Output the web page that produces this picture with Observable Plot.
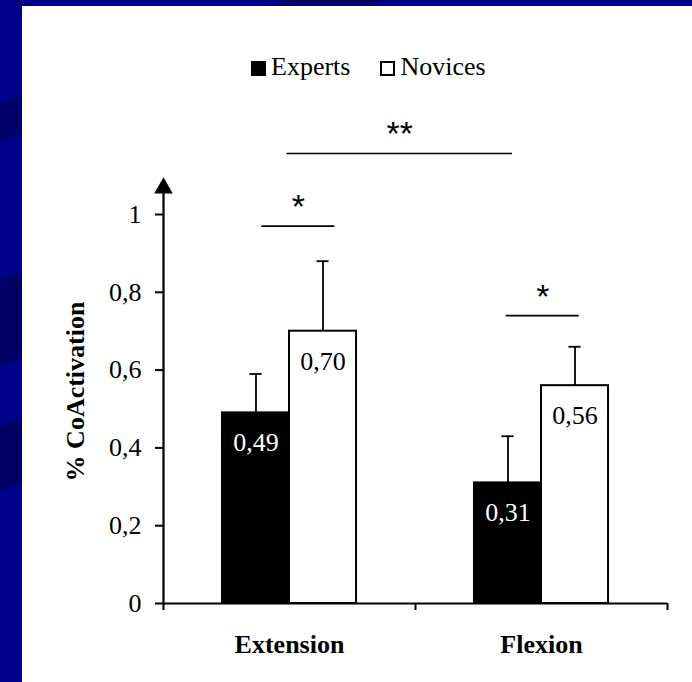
<!DOCTYPE html>
<html>
<head>
<meta charset="utf-8">
<script src="https://cdn.jsdelivr.net/npm/d3@7"></script>
<script src="https://cdn.jsdelivr.net/npm/@observablehq/plot@0.6"></script>
<style>
  html, body { margin: 0; padding: 0; width: 692px; height: 682px; overflow: hidden; }
  body { background:
    linear-gradient(160deg, rgba(0,0,0,0) 0px, rgba(0,0,0,0) 95px, rgba(0,0,40,0.35) 100px, rgba(0,0,40,0.35) 130px, rgba(0,0,0,0) 135px,
                    rgba(0,0,0,0) 260px, rgba(0,0,40,0.4) 268px, rgba(0,0,40,0.4) 340px, rgba(0,0,0,0) 346px,
                    rgba(0,0,0,0) 398px, rgba(0,0,40,0.4) 404px, rgba(0,0,40,0.4) 458px, rgba(0,0,0,0) 464px),
    #00008a; }
  #panel { position: absolute; left: 22px; top: 6px; width: 670px; height: 676px; background: #fff; }
  #legend { position: absolute; left: 229px; top: 46px; display: flex; align-items: center;
            font-family: "Liberation Serif", "Times New Roman", serif; font-size: 26px; color: #000; line-height: 30px; }
  .sw { width: 15px; height: 15px; box-sizing: border-box; margin-right: 5px; margin-top: 2px; }
  .item { display: flex; align-items: center; margin-right: 30px; }
  #chart { position: absolute; left: 0; top: 84px; }
</style>
</head>
<body>
<div id="panel">
  <div id="legend"></div>
  <div id="chart"></div>
</div>
<script>
// ---- data ----
const categories = ["Extension", "Flexion"];
const groups = ["Experts", "Novices"];
const expertsValues = [0.49, 0.31];
const novicesValues = [0.70, 0.56];
const expertsErr = [0.10, 0.12];
const novicesErr = [0.18, 0.10];
const yTicks = [0, 0.2, 0.4, 0.6, 0.8, 1];
const yTitle = "% CoActivation";
// significance brackets (x in category units, y in data units)
const sigLabels = ["*", "*", "**"];
const sigFrom = [0.39, 1.36, 0.49];
const sigTo = [0.68, 1.65, 1.385];
const sigY = [0.97, 0.74, 1.157];

// ---- build tables ----
const groupColors = ["#000", "#fff"];
const labelColors = ["#fff", "#000"];
const BW = 0.266;     // bar width in category units
const CAP = 0.024;    // error cap half-width
const bars = categories.flatMap((c, i) => groups.map((g, j) => ({
  category: c, group: g, ci: i, gi: j,
  value: [expertsValues, novicesValues][j][i],
  err: [expertsErr, novicesErr][j][i]
})));
const x1 = d => d.ci + 0.5 + (d.gi - 1) * BW;
const x2 = d => x1(d) + BW;
const xc = d => x1(d) + BW / 2;
const sig = sigLabels.map((s, i) => ({label: s, from: sigFrom[i], to: sigTo[i], y: sigY[i]}));
const fmt = v => d3.format(".2f")(v).replace(".", ",");
const tickFmt = v => String(v).replace(".", ",");

const serif = "'Liberation Serif', 'Times New Roman', serif";
const sans = "'Liberation Sans', Arial, sans-serif";

// ---- legend ----
const legend = document.getElementById("legend");
groups.forEach((g, j) => {
  const it = document.createElement("div");
  it.className = "item";
  const sw = document.createElement("div");
  sw.className = "sw";
  sw.style.background = groupColors[j];
  sw.style.border = "2px solid #000";
  const tx = document.createElement("span");
  tx.textContent = g;
  it.appendChild(sw); it.appendChild(tx);
  legend.appendChild(it);
});

// ---- chart ----
const chart = Plot.plot({
  width: 670, height: 592,
  marginLeft: 141, marginRight: 25, marginTop: 26.75, marginBottom: 79,
  x: {domain: [0, 2], axis: null},
  y: {domain: [0, 1.25], axis: null},
  style: {fontFamily: serif, fontSize: "26px", color: "#000", background: "transparent", overflow: "visible"},
  marks: [
    Plot.rect(bars, {x1, x2, y1: 0, y2: "value", fill: d => groupColors[d.gi], stroke: "#000", strokeWidth: 2}),
    Plot.ruleX(bars, {x: xc, y1: "value", y2: d => d.value + d.err, stroke: "#000", strokeWidth: 1.8}),
    Plot.ruleY(bars, {y: d => d.value + d.err, x1: d => xc(d) - CAP, x2: d => xc(d) + CAP, stroke: "#000", strokeWidth: 1.8}),
    Plot.text(bars, {x: xc, y: "value", dy: 30, text: d => fmt(d.value), fill: d => labelColors[d.gi], fontSize: 26, lineAnchor: "middle"}),
    // axes
    Plot.axisY({ticks: yTicks, tickSize: 8, tickPadding: 14, tickFormat: tickFmt, fontSize: 26, strokeWidth: 2}),
    Plot.ruleX([0], {y1: 0, y2: 1.07, stroke: "#000", strokeWidth: 2.2}),
    Plot.dot([0], {x: 0, y: 1.068, symbol: "triangle", r: 6.9, fill: "#000", stroke: null}),
    Plot.ruleY([0], {x1: 0, x2: 2, stroke: "#000", strokeWidth: 2.2}),
    Plot.ruleX([0, 1, 2], {x: d => d, y1: 0, y2: -0.018, stroke: "#000", strokeWidth: 2}),
    Plot.text(categories, {x: (d, i) => i + 0.5, y: 0, dy: 41, text: d => d, fontWeight: "bold", fontSize: 26, lineAnchor: "middle"}),
    Plot.text([yTitle], {x: 0, y: 0.545, dx: -88, rotate: -90, text: d => d, fontWeight: "bold", fontSize: 26, lineAnchor: "middle"}),
    // significance
    Plot.ruleY(sig, {y: "y", x1: "from", x2: "to", stroke: "#000", strokeWidth: 1.6}),
    Plot.text(sig, {x: d => (d.from + d.to) / 2, y: "y", dy: -19, text: "label", fontFamily: sans, fontSize: 34, lineAnchor: "middle"})
  ]
});
document.getElementById("chart").appendChild(chart);
</script>
</body>
</html>
